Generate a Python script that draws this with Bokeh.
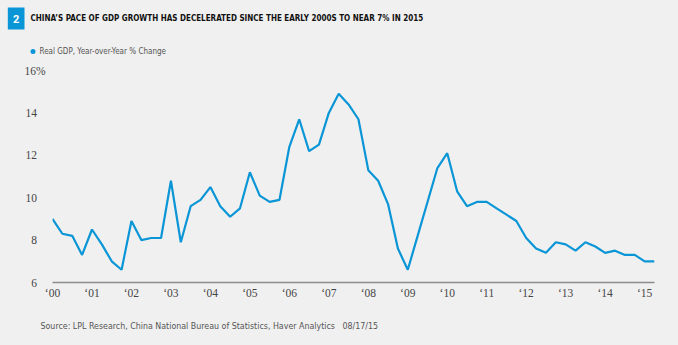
from bokeh.plotting import figure
from bokeh.models import FixedTicker, Range1d
from bokeh.layouts import column
from bokeh.core.properties import value
from bokeh.embed import file_html
from bokeh.resources import INLINE

# Quarterly real GDP, year-over-year % change, 2000 Q1 .. 2015 Q2
years = list(range(2000, 2016))
gdp = [
    9.0, 8.3, 8.2, 7.3,      # 2000
    8.5, 7.8, 7.0, 6.6,      # 2001
    8.9, 8.0, 8.1, 8.1,      # 2002
    10.8, 7.9, 9.6, 9.9,     # 2003
    10.5, 9.6, 9.1, 9.5,     # 2004
    11.2, 10.1, 9.8, 9.9,    # 2005
    12.4, 13.7, 12.2, 12.5,  # 2006
    14.0, 14.9, 14.4, 13.7,  # 2007
    11.3, 10.8, 9.7, 7.6,    # 2008
    6.6, 8.2, 9.8, 11.4,     # 2009
    12.1, 10.3, 9.6, 9.8,    # 2010
    9.8, 9.5, 9.2, 8.9,      # 2011
    8.1, 7.6, 7.4, 7.9,      # 2012
    7.8, 7.5, 7.9, 7.7,      # 2013
    7.4, 7.5, 7.3, 7.3,      # 2014
    7.0, 7.0,                # 2015
]
quarters = [2000 + i * 0.25 for i in range(len(gdp))]
y_ticks = [6, 8, 10, 12, 14, 16]
x_tick_labels = {y: "\u2018" + str(y)[2:] for y in years}
y_tick_labels = {t: (str(t) + "%" if t == 16 else str(t) + "\u00a0\u00a0\u00a0") for t in y_ticks}

title_text = "CHINA\u2019S PACE OF GDP GROWTH HAS DECELERATED SINCE THE EARLY 2000S TO NEAR 7% IN 2015"
series_name = "Real GDP, Year-over-Year % Change"
source_text = "Source: LPL Research, China National Bureau of Statistics, Haver Analytics\u00a0\u00a0\u00a008/17/15"

BG = "#f0f0f0"
BLUE = "#0a96d6"
W = 678
HEAD_H, MAIN_H, FOOT_H = 62, 248, 35
NARROW = "DejaVu Sans Condensed, Noto Sans Condensed, Roboto Condensed, Roboto"


def blank(h):
    f = figure(width=W, height=h, output_backend="svg", toolbar_location=None,
               x_range=Range1d(0, W), y_range=Range1d(h, 0),
               x_axis_location=None, y_axis_location=None,
               min_border=0, min_border_left=0, min_border_right=0,
               min_border_top=0, min_border_bottom=0)
    f.background_fill_color = BG
    f.border_fill_color = BG
    f.outline_line_color = None
    f.grid.visible = False
    f.frame_align = False
    return f


# ---- header: numbered box, title, legend ----
head = blank(HEAD_H)
head.quad(left=[7.3], right=[24], top=[7], bottom=[29], fill_color=BLUE, line_color=None)
head.text(x=[15.7], y=[18.5], text=["2"], text_align="center", text_baseline="middle",
          text_font=value("Roboto"), text_font_style="bold", text_font_size="11px",
          text_color="white")
head.text(x=[30], y=[18], text=[title_text], text_align="left", text_baseline="middle",
          text_font=value(NARROW), text_font_style="bold", text_font_size="8px",
          text_color="#111111")
head.scatter(x=[32.5], y=[51], size=5, marker="circle", fill_color=BLUE, line_color=None)
head.text(x=[39], y=[51], text=[series_name], text_align="left", text_baseline="middle",
          text_font=value(NARROW), text_font_size="8px", text_color="#555555")

# ---- main chart ----
p = figure(width=W, height=MAIN_H, output_backend="svg", toolbar_location=None,
           x_range=Range1d(2000, 2015.25), y_range=Range1d(6, 16),
           min_border_left=52, min_border_right=24, min_border_top=8, min_border_bottom=28)
p.background_fill_color = BG
p.border_fill_color = BG
p.outline_line_color = None
p.grid.visible = False
p.frame_align = False

p.line(quarters, gdp, line_color=BLUE, line_width=2.2)

xa = p.xaxis[0]
xa.ticker = FixedTicker(ticks=years)
xa.major_label_overrides = x_tick_labels
xa.major_tick_line_color = None
xa.major_tick_out = 0
xa.major_tick_in = 0
xa.minor_tick_line_color = None
xa.minor_tick_out = 0
xa.axis_line_color = "#8c8c8c"
xa.axis_line_width = 1.6
xa.major_label_standoff = 4
xa.major_label_text_font = "Liberation Serif"
xa.major_label_text_font_size = "11.5px"
xa.major_label_text_color = "#444444"

ya = p.yaxis[0]
ya.ticker = FixedTicker(ticks=y_ticks)
ya.major_label_overrides = y_tick_labels
ya.major_tick_line_color = None
ya.major_tick_out = 0
ya.major_tick_in = 0
ya.minor_tick_line_color = None
ya.minor_tick_out = 0
ya.axis_line_color = None
ya.major_label_standoff = 7
ya.major_label_text_font = "Liberation Serif"
ya.major_label_text_font_size = "11.5px"
ya.major_label_text_color = "#444444"

# ---- footer: source ----
foot = blank(FOOT_H)
foot.text(x=[40], y=[15], text=[source_text], text_align="left", text_baseline="middle",
          text_font=value(NARROW), text_font_size="8.8px", text_color="#555555")

layout = column(head, p, foot, spacing=0)
layout.background = BG
open("out.html", "w").write(file_html(layout, INLINE))
